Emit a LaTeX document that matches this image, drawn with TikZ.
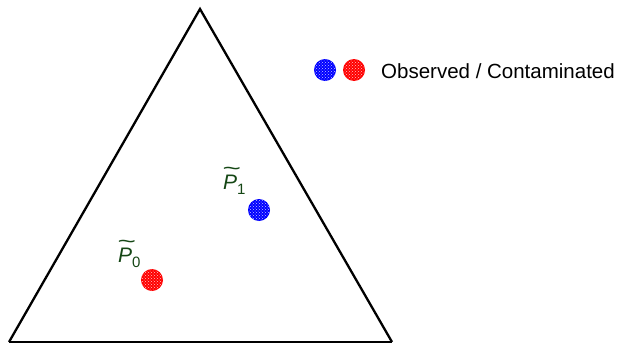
\documentclass[tikz,border=0pt]{standalone}
\usepackage{fontspec}
\setmainfont{Liberation Sans}
\usetikzlibrary{patterns}
\definecolor{lblgreen}{RGB}{20,70,20}
\newcommand\tlP[1]{\ooalign{\itshape P\cr\hidewidth\raisebox{0.62em}{\kern0.15em\scalebox{1.5}[1]{\textasciitilde}}\hidewidth\cr}\raisebox{-0.28em}{\fontsize{15}{16}\selectfont #1}}
\begin{document}
\begin{tikzpicture}[x=1pt,y=-1pt,
  dot/.style={circle,minimum size=22pt,inner sep=0pt},
  lbl/.style={text=lblgreen,font=\fontsize{21}{24}\selectfont,inner sep=0pt},
  tri/.style={draw=black,line width=2.3pt,line join=miter}]
\useasboundingbox (0,0) rectangle (620,343);
\coordinate (A) at (200,9);
\coordinate (B) at (9,342);
\coordinate (C) at (392,342);
\draw[tri] (B) -- (A) -- (C);
\draw[tri] (B) -- (C);
\foreach \n/\c/\x/\y in {p1/blue/259/210, p0/red/152/280, lb/blue/325/70, lr/red/354/70}{
  \node[dot,fill=\c] (\n) at (\x,\y) {};
  \fill[pattern=crosshatch dots,pattern color=white!75!\c] (\x,\y) circle (10.5);
}
\node[lbl,anchor=base west] (t1) at (223,189) {\tlP{1}};
\node[lbl,anchor=base west] (t0) at (118,262) {\tlP{0}};
\node[anchor=west,font=\fontsize{20.5}{23}\selectfont,inner sep=0pt] (leg) at (381,71) {Observed / Contaminated};
\end{tikzpicture}
\end{document}
